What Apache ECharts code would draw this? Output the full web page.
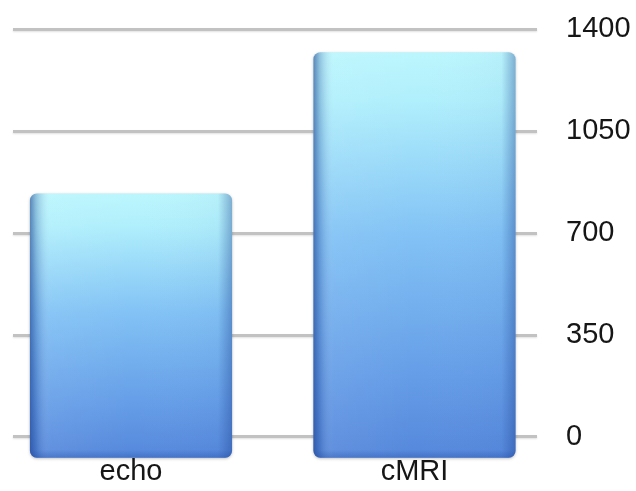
<!DOCTYPE html>
<html>
<head>
<meta charset="utf-8">
<script src="https://cdn.jsdelivr.net/npm/echarts@6/dist/echarts.min.js"></script>
<style>
  html, body { margin: 0; padding: 0; background: #ffffff; }
  #chart { width: 636px; height: 491px; }
</style>
</head>
<body>
<div id="chart"></div>
<script>
// Chart data
const categories = ['echo', 'cMRI'];
const volumes = [835, 1320];
const yTicks = [0, 350, 700, 1050, 1400];

const FONT = '"Liberation Sans", Arial, Helvetica, sans-serif';
const plotTop = 29;
const plotBottom = 54.3;
const pedestal = 21; // bars are drawn sinking a little below the baseline

const chart = echarts.init(document.getElementById('chart'), null, { renderer: 'canvas' });

function renderBar(params, api) {
  const idx = api.value(0);
  const val = api.value(1);
  const top = api.coord([idx, val]);
  const base = api.coord([idx, 0]);
  const w = api.size([1, 0])[0] * 0.713;
  const x = top[0] - w / 2;
  const y = top[1];
  const h = base[1] + pedestal - y;
  return {
    type: 'group',
    children: [
      {
        type: 'rect',
        shape: { x: x, y: y, width: w, height: h, r: 7 },
        style: {
          fill: new echarts.graphic.LinearGradient(0, 0, 0, 1, [
            { offset: 0, color: '#bcf6fd' },
            { offset: 0.12, color: '#b0effc' },
            { offset: 0.45, color: '#82c2f5' },
            { offset: 0.8, color: '#659de7' },
            { offset: 1, color: '#5587db' }
          ]),
          shadowColor: 'rgba(0,0,0,0.25)',
          shadowBlur: 3,
          shadowOffsetX: 0,
          shadowOffsetY: 1
        }
      },
      {
        type: 'rect',
        shape: { x: x, y: y, width: w, height: h, r: 7 },
        style: {
          fill: new echarts.graphic.LinearGradient(0, 0, 1, 0, [
            { offset: 0, color: 'rgba(25,60,140,0.6)' },
            { offset: 0.03, color: 'rgba(25,60,140,0.28)' },
            { offset: 0.1, color: 'rgba(255,255,255,0.06)' },
            { offset: 0.5, color: 'rgba(255,255,255,0)' },
            { offset: 0.93, color: 'rgba(25,60,140,0.03)' },
            { offset: 1, color: 'rgba(25,60,140,0.38)' }
          ])
        }
      },
      {
        type: 'rect',
        shape: { x: x, y: y + h - 8, width: w, height: 8, r: [0, 0, 7, 7] },
        style: {
          fill: new echarts.graphic.LinearGradient(0, 0, 0, 1, [
            { offset: 0, color: 'rgba(30,70,160,0)' },
            { offset: 1, color: 'rgba(30,70,160,0.32)' }
          ])
        }
      }
    ]
  };
}

const option = {
  backgroundColor: '#ffffff',
  animation: false,
  grid: [
    { left: 13, right: 99, top: plotTop, bottom: plotBottom, outerBoundsMode: 'none' },
    { left: -10.75, right: 79.75, top: plotTop, bottom: plotBottom, outerBoundsMode: 'none' }
  ],
  xAxis: [
    {
      gridIndex: 0,
      type: 'category',
      data: categories,
      show: false
    },
    {
      gridIndex: 1,
      type: 'category',
      data: categories,
      axisLine: { show: false },
      axisTick: { show: false },
      axisLabel: {
        margin: 21,
        color: '#161616',
        fontFamily: FONT,
        fontSize: 29
      }
    }
  ],
  yAxis: [
    {
      gridIndex: 0,
      type: 'value',
      position: 'right',
      min: yTicks[0],
      max: yTicks[yTicks.length - 1],
      interval: yTicks[1] - yTicks[0],
      axisLine: { show: false },
      axisTick: { show: false },
      axisLabel: {
        margin: 29,
        align: 'left',
        color: '#161616',
        fontFamily: FONT,
        fontSize: 29,
        formatter: (v) => String(v)
      },
      splitLine: {
        show: true,
        lineStyle: {
          color: '#c2c2c2',
          width: 3,
          shadowColor: 'rgba(0,0,0,0.12)',
          shadowBlur: 2,
          shadowOffsetY: 1
        }
      }
    },
    {
      gridIndex: 1,
      type: 'value',
      min: yTicks[0],
      max: yTicks[yTicks.length - 1],
      show: false
    }
  ],
  series: [
    {
      type: 'custom',
      xAxisIndex: 1,
      yAxisIndex: 1,
      renderItem: renderBar,
      encode: { x: 0, y: 1 },
      data: categories.map((c, i) => [i, volumes[i]])
    }
  ]
};

chart.setOption(option);
</script>
</body>
</html>
